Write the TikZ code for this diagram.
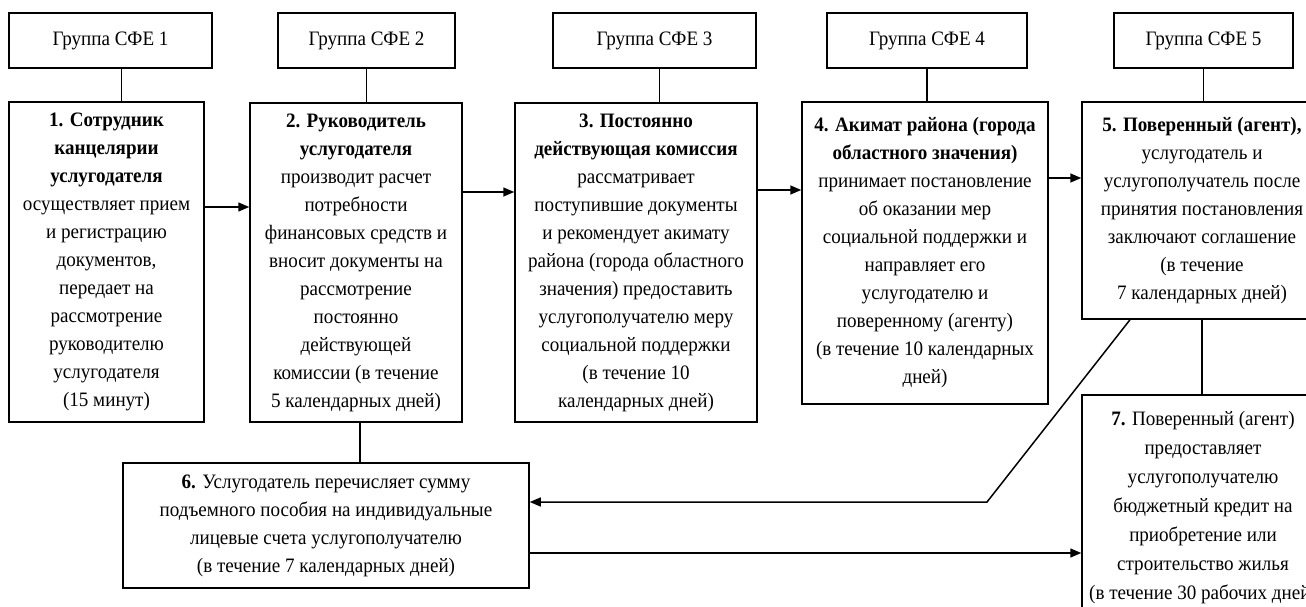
\documentclass[tikz,border=0pt]{standalone}
\usepackage{fontspec}
\setmainfont{Liberation Serif}[FakeStretch=0.93]
\usepackage{tikz}
\usetikzlibrary{arrows.meta,positioning}

\begin{document}
\begin{tikzpicture}[
        x=1pt, y=-1pt,
        hdr/.style={rectangle, draw, line width=1.5pt, inner sep=0pt, minimum height=55pt, align=center, font=\fontsize{20.5}{24}\selectfont},
        stage/.style={rectangle, draw, line width=1.5pt, inner sep=0pt, align=center, font=\fontsize{20.5}{28}\selectfont},
        link/.style={line width=1.5pt},
        arrow/.style={line width=1.5pt, -{Triangle[length=11pt,width=9pt]}}
    ]
        \useasboundingbox (0,0) rectangle (1306,607);
        \clip (0,0) rectangle (1306,607);

        % Groups
        \node[hdr, minimum width=203pt] (h1) at (110.5,40.5) {Группа СФЕ 1};
        \node[hdr, minimum width=177pt] (h2) at (366.5,40.5) {Группа СФЕ 2};
        \node[hdr, minimum width=203pt] (h3) at (654.5,40.5) {Группа СФЕ 3};
        \node[hdr, minimum width=200pt] (h4) at (927,40.5) {Группа СФЕ 4};
        \node[hdr, minimum width=179pt] (h5) at (1203.5,40.5) {Группа СФЕ 5};

        % Steps
        \node[stage, minimum width=195pt, minimum height=320pt] (s1) at (106.5,262)
            {\textbf{1. Сотрудник}\\\textbf{канцелярии}\\\textbf{услугодателя}\\осуществляет прием\\и регистрацию\\документов,\\передает на\\рассмотрение\\руководителю\\услугодателя\\(15 минут)};
        \node[stage, minimum width=212pt, minimum height=319pt] (s2) at (356,262.5)
            {\textbf{2. Руководитель}\\\textbf{услугодателя}\\производит расчет\\потребности\\финансовых средств и\\вносит документы на\\рассмотрение\\постоянно\\действующей\\комиссии (в течение\\5 календарных дней)};
        \node[stage, minimum width=242pt, minimum height=319pt] (s3) at (636,262.5)
            {\textbf{3. Постоянно}\\\textbf{действующая комиссия}\\рассматривает\\поступившие документы\\и рекомендует акимату\\района (города областного\\значения) предоставить\\услугополучателю меру\\социальной поддержки\\(в течение 10\\календарных дней)};
        \node[stage, minimum width=246pt, minimum height=302pt] (s4) at (925,253)
            {\textbf{4. Акимат района (города}\\\textbf{областного значения)}\\принимает постановление\\об оказании мер\\социальной поддержки и\\направляет его\\услугодателю и\\поверенному (агенту)\\(в течение 10 календарных\\дней)};
        \node[stage, minimum width=240pt, minimum height=217pt] (s5) at (1202,210.5)
            {\textbf{5. Поверенный (агент),}\\услугодатель и\\услугополучатель после\\принятия постановления\\заключают соглашение\\(в течение\\7 календарных дней)};
        \node[stage, minimum width=406pt, minimum height=125pt] (s6) at (326,525.5)
            {\textbf{6.} Услугодатель перечисляет сумму\\подъемного пособия на индивидуальные\\лицевые счета услугополучателю\\(в течение 7 календарных дней)};
        \node[stage, minimum width=242pt, minimum height=225pt, font=\fontsize{20.5}{29}\selectfont] (s7) at (1203,507.5)
            {\textbf{7.} Поверенный (агент)\\предоставляет\\услугополучателю\\бюджетный кредит на\\приобретение или\\строительство жилья\\(в течение 30 рабочих дней)};

        % Group links
        \draw[link] ([xshift=11pt]h1.south) -- ([xshift=11pt]h1.south |- s1.north);
        \draw[link] (h2.south) -- (h2.south |- s2.north);
        \draw[link] ([xshift=5pt]h3.south) -- ([xshift=5pt]h3.south |- s3.north);
        \draw[link] (h4.south) -- (h4.south |- s4.north);
        \draw[link] (h5.south) -- (h5.south |- s5.north);

        % Flow
        \draw[arrow] ([yshift=55pt]s1.east) -- ([yshift=55pt]s1.east -| s2.west);
        \draw[arrow] ([yshift=70.5pt]s2.east) -- ([yshift=70.5pt]s2.east -| s3.west);
        \draw[arrow] ([yshift=72.5pt]s3.east) -- ([yshift=72.5pt]s3.east -| s4.west);
        \draw[arrow] ([yshift=75pt]s4.east) -- ([yshift=75pt]s4.east -| s5.west);
        \draw[link] ([xshift=4pt]s2.south) -- ([xshift=4pt]s2.south |- s6.north);
        \draw[link] (s5.south) -- (s5.south |- s7.north);
        \coordinate (knee) at (987,502);
        \draw[arrow] ([xshift=-72pt]s5.south) -- (knee) -- (knee -| s6.east);
        \draw[arrow] ([yshift=-27.5pt]s6.east) -- ([yshift=-27.5pt]s6.east -| s7.west);
    \end{tikzpicture}
\end{document}
